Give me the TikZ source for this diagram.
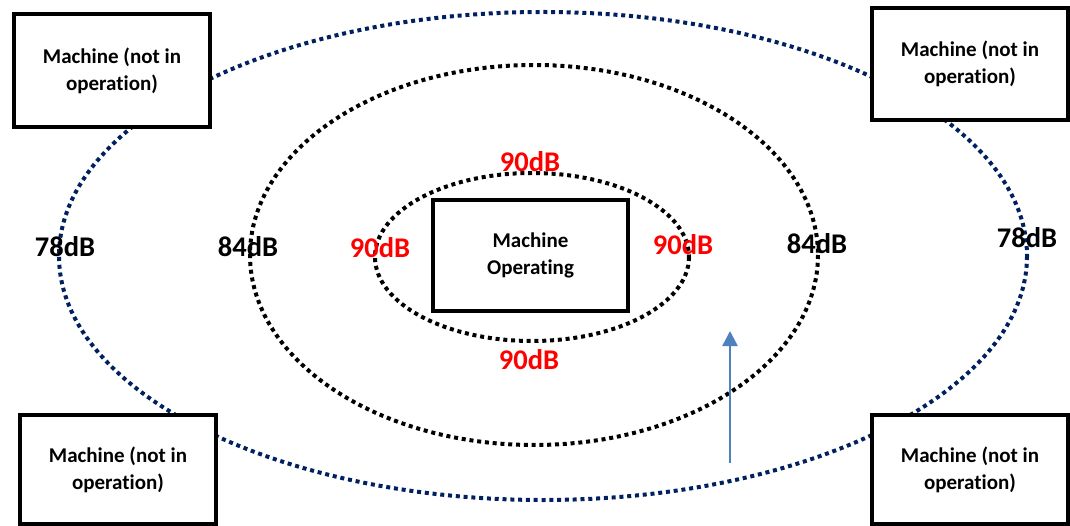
\documentclass[tikz,border=0pt]{standalone}
\usepackage{fontspec}
\setmainfont[Ligatures=NoCommon]{Carlito}
\usetikzlibrary{arrows.meta}
\definecolor{navy}{HTML}{002060}
\definecolor{arrowblue}{HTML}{4F81BD}
\definecolor{lblred}{HTML}{FF0000}
\tikzset{
  ring/.style={line width=4pt, dash pattern=on 4pt off 3.8pt},
  machbox/.style={draw=black, fill=white, line width=4.5pt, inner sep=0pt,
    align=center, font=\fontsize{21}{27}\selectfont\bfseries},
  dblabel/.style={inner sep=0pt, font=\fontsize{28.5}{32}\selectfont\bfseries},
  redlabel/.style={dblabel, text=lblred},
}
\begin{document}
\begin{tikzpicture}[x=1pt,y=-1pt]
\useasboundingbox (0,0) rectangle (1070,526);
% rings
\draw[ring, navy] (543,256) ellipse [x radius=484, y radius=244];
\draw[ring, black] (534,255) ellipse [x radius=284, y radius=190];
\draw[ring, black] (532,257) ellipse [x radius=157, y radius=84];
% machines
\node[machbox, minimum width=196, minimum height=113] (tl) at (112,70.5) {Machine (not in\\operation)};
\node[machbox, minimum width=196, minimum height=112] (tr) at (970,64) {Machine (not in\\operation)};
\node[machbox, minimum width=196, minimum height=109] (bl) at (118,469.5) {Machine (not in\\operation)};
\node[machbox, minimum width=196, minimum height=109] (br) at (970,469.5) {Machine (not in\\operation)};
\node[machbox, minimum width=195, minimum height=111] (op) at (530.5,255.5) {Machine\\Operating};
% labels
\node[dblabel] (l78) at (65,247) {78dB};
\node[dblabel] (l84) at (248,247) {84dB};
\node[redlabel] (l90l) at (380,248) {90dB};
\node[redlabel] (l90r) at (683,245) {90dB};
\node[redlabel] (l90t) at (530,162) {90dB};
\node[redlabel] (l90b) at (529,360) {90dB};
\node[dblabel] (r84) at (817,244) {84dB};
\node[dblabel] (r78) at (1027,237.5) {78dB};
% arrow
\coordinate (a0) at (730,463);
\coordinate (a1) at (730,331);
\draw[arrowblue, line width=2.5pt, -{Triangle[length=15pt,width=15pt]}] (a0) -- (a1);
\end{tikzpicture}
\end{document}
